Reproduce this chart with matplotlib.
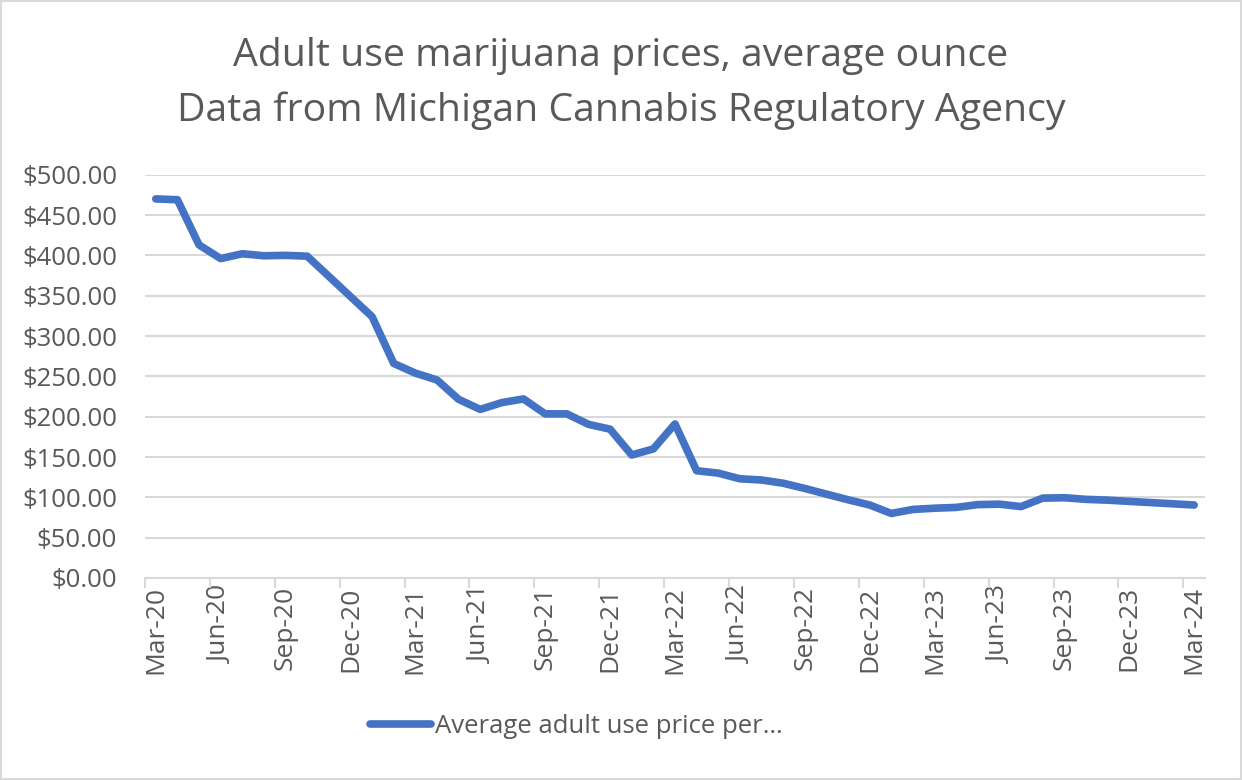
import matplotlib.pyplot as plt
from matplotlib.patches import Rectangle

# === DADOS ===
meses = ['Mar-20', 'Apr-20', 'May-20', 'Jun-20', 'Jul-20', 'Aug-20', 'Sep-20', 'Oct-20',
         'Nov-20', 'Dec-20', 'Jan-21', 'Feb-21', 'Mar-21', 'Apr-21', 'May-21', 'Jun-21',
         'Jul-21', 'Aug-21', 'Sep-21', 'Oct-21', 'Nov-21', 'Dec-21', 'Jan-22', 'Feb-22',
         'Mar-22', 'Apr-22', 'May-22', 'Jun-22', 'Jul-22', 'Aug-22', 'Sep-22', 'Oct-22',
         'Nov-22', 'Dec-22', 'Jan-23', 'Feb-23', 'Mar-23', 'Apr-23', 'May-23', 'Jun-23',
         'Jul-23', 'Aug-23', 'Sep-23', 'Oct-23', 'Nov-23', 'Dec-23', 'Jan-24', 'Feb-24',
         'Mar-24']
precos = [470, 469, 413, 396, 402, 399.5, 400, 399, 374, 349, 324, 266, 254, 245.5,
          221.5, 209, 217.5, 222, 203.5, 203.5, 190.5, 184.5, 152.5, 160, 191, 133,
          130, 123, 121.5, 117.5, 111, 104, 97, 90.5, 80, 85, 86.5, 87.5, 91, 91.5,
          88.5, 99, 99.5, 97.5, 96.5, 95, 93.5, 92, 90.5]
serie = 'Average adult use price per\u2026'

# === ESTILO ===
AZUL = '#4472C4'
CINZA = '#595959'
GRADE = '#D9D9D9'
plt.rcParams['font.family'] = ['Open Sans', 'DejaVu Sans']

fig = plt.figure(figsize=(12.42, 7.8), dpi=100)
ax = fig.add_axes([0.1167, 0.259, 0.8535, 0.517])

x = list(range(len(precos)))
ax.plot(x, precos, color=AZUL, lw=5.5, solid_joinstyle='round', solid_capstyle='round',
        label=serie, zorder=3)

ax.set_xlim(-0.5, len(precos) - 0.5)
ax.set_ylim(0, 500)
ax.set_yticks(range(0, 501, 50))
ax.set_yticklabels([f'${v:.2f}' for v in range(0, 501, 50)], fontsize=18.5, color=CINZA)
ax.yaxis.grid(True, color=GRADE, lw=1.5)
ax.set_axisbelow(True)

# rótulos centrados, marcas entre categorias
ax.set_xticks(x[::3])
ax.set_xticklabels(meses[::3], rotation=90, fontsize=19, color=CINZA)
ax.tick_params(axis='x', length=0, pad=6)
ax.set_xticks([i - 0.5 for i in x[::3]], minor=True)
ax.tick_params(axis='x', which='minor', length=7, color=GRADE, width=1.5)
ax.tick_params(axis='y', length=0, pad=20)

for lado in ['top', 'right', 'left']:
    ax.spines[lado].set_visible(False)
ax.spines['bottom'].set_color(GRADE)
ax.spines['bottom'].set_linewidth(1.5)

fig.text(0.5, 0.928, 'Adult use marijuana prices, average ounce', ha='center', va='center',
         fontsize=28.3, color=CINZA)
fig.text(0.5, 0.858, 'Data from Michigan Cannabis Regulatory Agency', ha='center', va='center',
         fontsize=28.3, color=CINZA)

leg = fig.legend(loc='center', bbox_to_anchor=(0.464, 0.068), frameon=False, fontsize=18.5,
                 handlelength=2.4, handletextpad=0.15, labelcolor=CINZA)

fig.patches.append(Rectangle((0.001, 0.001), 0.998, 0.998, transform=fig.transFigure,
                             fill=False, edgecolor=GRADE, lw=1.5))

fig.savefig('out.png', dpi=100, facecolor='white')
